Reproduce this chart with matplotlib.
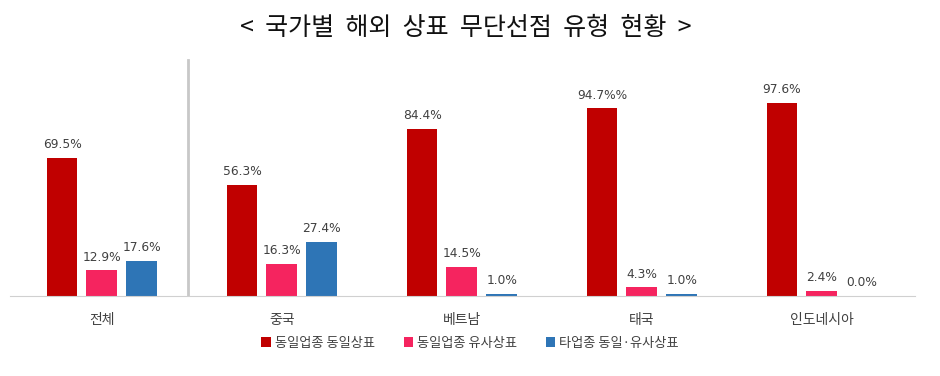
import matplotlib.pyplot as plt
import numpy as np

plt.rcParams['font.family'] = ['Noto Sans CJK KR', 'DejaVu Sans']

# 데이터
countries = ['전체', '중국', '베트남', '태국', '인도네시아']
series_names = ['동일업종 동일상표', '동일업종 유사상표', '타업종 동일·유사상표']
same_same = [69.5, 56.3, 84.4, 94.7, 97.6]
same_similar = [12.9, 16.3, 14.5, 4.3, 2.4]
other = [17.6, 27.4, 1.0, 1.0, 0.0]
value_labels = [
    ['69.5%', '56.3%', '84.4%', '94.7%%', '97.6%'],
    ['12.9%', '16.3%', '14.5%', '4.3%', '2.4%'],
    ['17.6%', '27.4%', '1.0%', '1.0%', '0.0%'],
]
colors = ['#C00000', '#F5245F', '#2E75B6']

fig = plt.figure(figsize=(9.4, 3.76), dpi=100)
ax = fig.add_axes([10 / 940, 80 / 376, 905 / 940, 241 / 376])

x = np.arange(len(countries))
offsets = [-0.222, 0, 0.222]
width = 0.172
handles = []
for i, vals in enumerate([same_same, same_similar, other]):
    b = ax.bar(x + offsets[i], vals, width, color=colors[i], label=series_names[i])
    handles.append(b)
    for xi, v, lab in zip(x + offsets[i], vals, value_labels[i]):
        ax.annotate(lab, (xi, v), xytext=(0, 5), textcoords='offset points',
                    ha='center', va='bottom', fontsize=8.8, color='#404040',
                    family=['DejaVu Sans'])

ax.set_xlim(-0.511, 4.517)
ax.set_ylim(0, 121.7)

# 구분선
ax.plot([0.478, 0.478], [0, 119], color='#C8C8C8', lw=2, zorder=0)

for s in ['top', 'right', 'left']:
    ax.spines[s].set_visible(False)
ax.spines['bottom'].set_color('#D0D0D0')
ax.set_yticks([])
ax.set_xticks(x)
ax.set_xticklabels(countries, fontsize=10, color='#404040')
ax.tick_params(axis='x', length=0, pad=12)

fig.text(0.495, 0.925, '<  국가별  해외  상표  무단선점  유형  현황  >', ha='center', va='center',
         fontsize=18, color='#111111')

fig.legend(handles=handles, loc='center', bbox_to_anchor=(0.5, 1 - 343 / 376),
           ncol=3, frameon=False, fontsize=9.5, handlelength=0.7, handleheight=0.7,
           handletextpad=0.3, columnspacing=2.2, labelcolor='#404040')

fig.savefig('out.png', dpi=100)
